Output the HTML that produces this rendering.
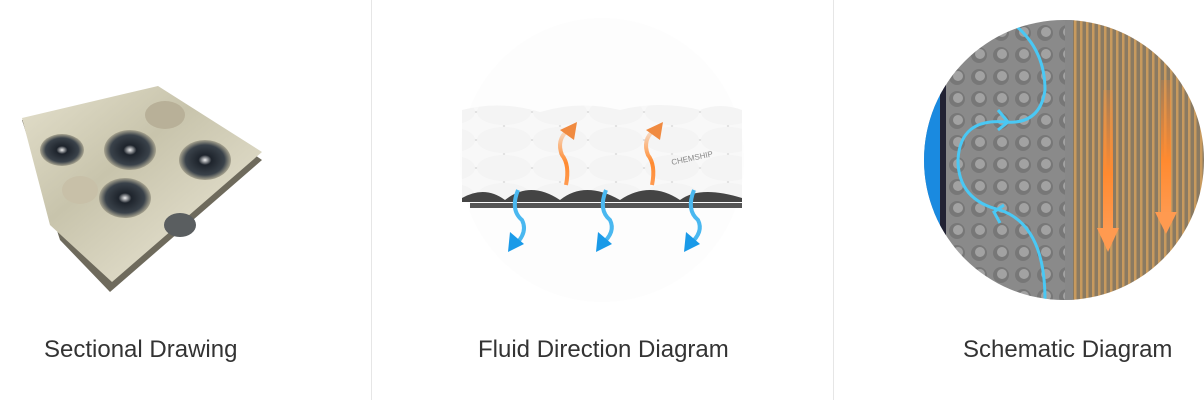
<!DOCTYPE html>
<html><head><meta charset="utf-8"><style>
html,body{margin:0;padding:0;background:#fff;}
body{width:1204px;height:400px;position:relative;overflow:hidden;font-family:"Liberation Sans",sans-serif;}
.lbl{position:absolute;top:336px;font-size:24px;color:#333;white-space:nowrap;}
.div{position:absolute;top:0;width:1px;height:400px;background:#e6e6e6;}
</style></head><body>
<div class="div" style="left:371px"></div>
<div class="div" style="left:833px"></div>
<svg width="1204" height="400" style="position:absolute;left:0;top:0">
<defs>
<linearGradient id="met" x1="0" y1="0" x2="1" y2="1">
<stop offset="0" stop-color="#e4e0cc"/><stop offset=".4" stop-color="#c8c4ac"/><stop offset=".7" stop-color="#dcd8c4"/><stop offset="1" stop-color="#9a9686"/>
</linearGradient>
<radialGradient id="dimp"><stop offset="0" stop-color="#f0f0f0"/><stop offset=".25" stop-color="#1e242c"/><stop offset=".75" stop-color="#3a424a"/><stop offset="1" stop-color="#a8a490"/></radialGradient>
<clipPath id="c3"><circle cx="1064" cy="160" r="140"/></clipPath>
<pattern id="stripe" width="6" height="10" patternUnits="userSpaceOnUse"><rect width="6" height="10" fill="#8a7a62"/><rect width="2.5" height="10" fill="#c89a5e"/></pattern>
<pattern id="dots" width="22" height="22" patternUnits="userSpaceOnUse"><rect width="22" height="22" fill="#8a8a8a"/><circle cx="11" cy="11" r="8" fill="#777"/><circle cx="12" cy="10" r="5" fill="#a2a2a2"/></pattern>
<pattern id="bub" width="56" height="28" patternUnits="userSpaceOnUse"><rect width="56" height="28" fill="#e2e2e2"/><ellipse cx="28" cy="14" rx="27" ry="13" fill="#f8f8f8"/><ellipse cx="0" cy="0" rx="27" ry="13" fill="#f4f4f4"/><ellipse cx="56" cy="0" rx="27" ry="13" fill="#f4f4f4"/><ellipse cx="0" cy="28" rx="27" ry="13" fill="#f4f4f4"/><ellipse cx="56" cy="28" rx="27" ry="13" fill="#f4f4f4"/></pattern>
<linearGradient id="org" x1="0" y1="0" x2="0" y2="1"><stop offset="0" stop-color="#ff8a30" stop-opacity=".2"/><stop offset=".6" stop-color="#ff8a30"/><stop offset="1" stop-color="#ff9a50"/></linearGradient>
</defs>
<!-- panel 1 plate -->
<polygon points="22,120 160,88 262,160 110,292 60,240" fill="#6e6a5c"/>
<polygon points="22,118 158,86 262,152 112,282 50,225" fill="url(#met)"/>
<ellipse cx="62" cy="150" rx="22" ry="16" fill="url(#dimp)"/>
<ellipse cx="130" cy="150" rx="26" ry="20" fill="url(#dimp)"/>
<ellipse cx="205" cy="160" rx="26" ry="20" fill="url(#dimp)"/>
<ellipse cx="125" cy="198" rx="26" ry="20" fill="url(#dimp)"/>
<ellipse cx="80" cy="190" rx="18" ry="14" fill="#c8c0a8"/>
<ellipse cx="165" cy="115" rx="20" ry="14" fill="#b8b098"/>
<ellipse cx="180" cy="225" rx="16" ry="12" fill="#5a5e60"/>
<!-- panel 2 -->
<circle cx="602" cy="160" r="142" fill="#fdfdfd"/>
<path d="M462,110 Q500,100 540,112 Q580,100 620,110 Q660,100 700,110 Q720,102 742,110 L742,200 Q700,185 680,200 Q650,180 620,200 Q585,180 560,200 Q530,180 505,200 Q485,185 462,198 Z" fill="url(#bub)"/>
<path d="M462,198 Q485,185 505,200 Q530,180 560,200 Q585,180 620,200 Q650,180 680,200 Q700,185 742,198 L742,202 L462,202 Z" fill="#444"/>
<rect x="470" y="203" width="272" height="5" fill="#555"/>
<g fill="none" stroke-width="4" stroke="#4ab8f0">
<path d="M518,190 Q510,210 522,220 Q528,232 516,244"/>
<path d="M606,190 Q598,210 610,220 Q616,232 602,244"/>
<path d="M694,190 Q686,210 698,220 Q704,232 690,244"/>
</g>
<g fill="#1a9ae8"><polygon points="508,252 510,232 524,244"/><polygon points="596,252 598,232 612,244"/><polygon points="684,252 686,232 700,244"/></g>
<g fill="none" stroke="url(#org)" stroke-width="4">
<path d="M566,185 Q570,165 562,155 Q556,140 568,130"/>
<path d="M652,185 Q656,165 648,155 Q642,140 654,130"/>
</g>
<g fill="#f08a40"><polygon points="577,122 560,130 574,140"/><polygon points="663,122 646,130 660,140"/></g>
<text x="672" y="165" font-size="8" fill="#888" transform="rotate(-12 672 165)">CHEMSHIP</text>
<!-- panel 3 -->
<g clip-path="url(#c3)">
<rect x="920" y="0" width="155" height="320" fill="url(#dots)"/>
<rect x="1065" y="0" width="8" height="320" fill="#888"/>
<rect x="1073" y="0" width="140" height="320" fill="url(#stripe)"/>
<rect x="922" y="60" width="20" height="200" fill="#1a8ae0"/>
<rect x="940" y="60" width="6" height="200" fill="#223"/>
<path d="M1015,25 Q1045,50 1045,90 Q1040,125 1005,122 Q960,118 958,160 Q958,200 1000,210 Q1045,225 1045,300" fill="none" stroke="#4ac8f4" stroke-width="3"/>
<path d="M998,110 L1008,122 L998,130" fill="none" stroke="#4ac8f4" stroke-width="3"/>
<path d="M1004,205 L994,212 L1000,223" fill="none" stroke="#4ac8f4" stroke-width="3"/>
<rect x="1103" y="90" width="10" height="140" fill="url(#org)"/>
<polygon points="1097,228 1119,228 1108,252" fill="#ff9a50"/>
<rect x="1161" y="80" width="10" height="135" fill="url(#org)"/>
<polygon points="1155,212 1177,212 1166,234" fill="#ff9a50"/>
</g>
</svg>
<div class="lbl" style="left:44px">Sectional Drawing</div>
<div class="lbl" style="left:478px">Fluid Direction Diagram</div>
<div class="lbl" style="left:963px">Schematic Diagram</div>
</body></html>
